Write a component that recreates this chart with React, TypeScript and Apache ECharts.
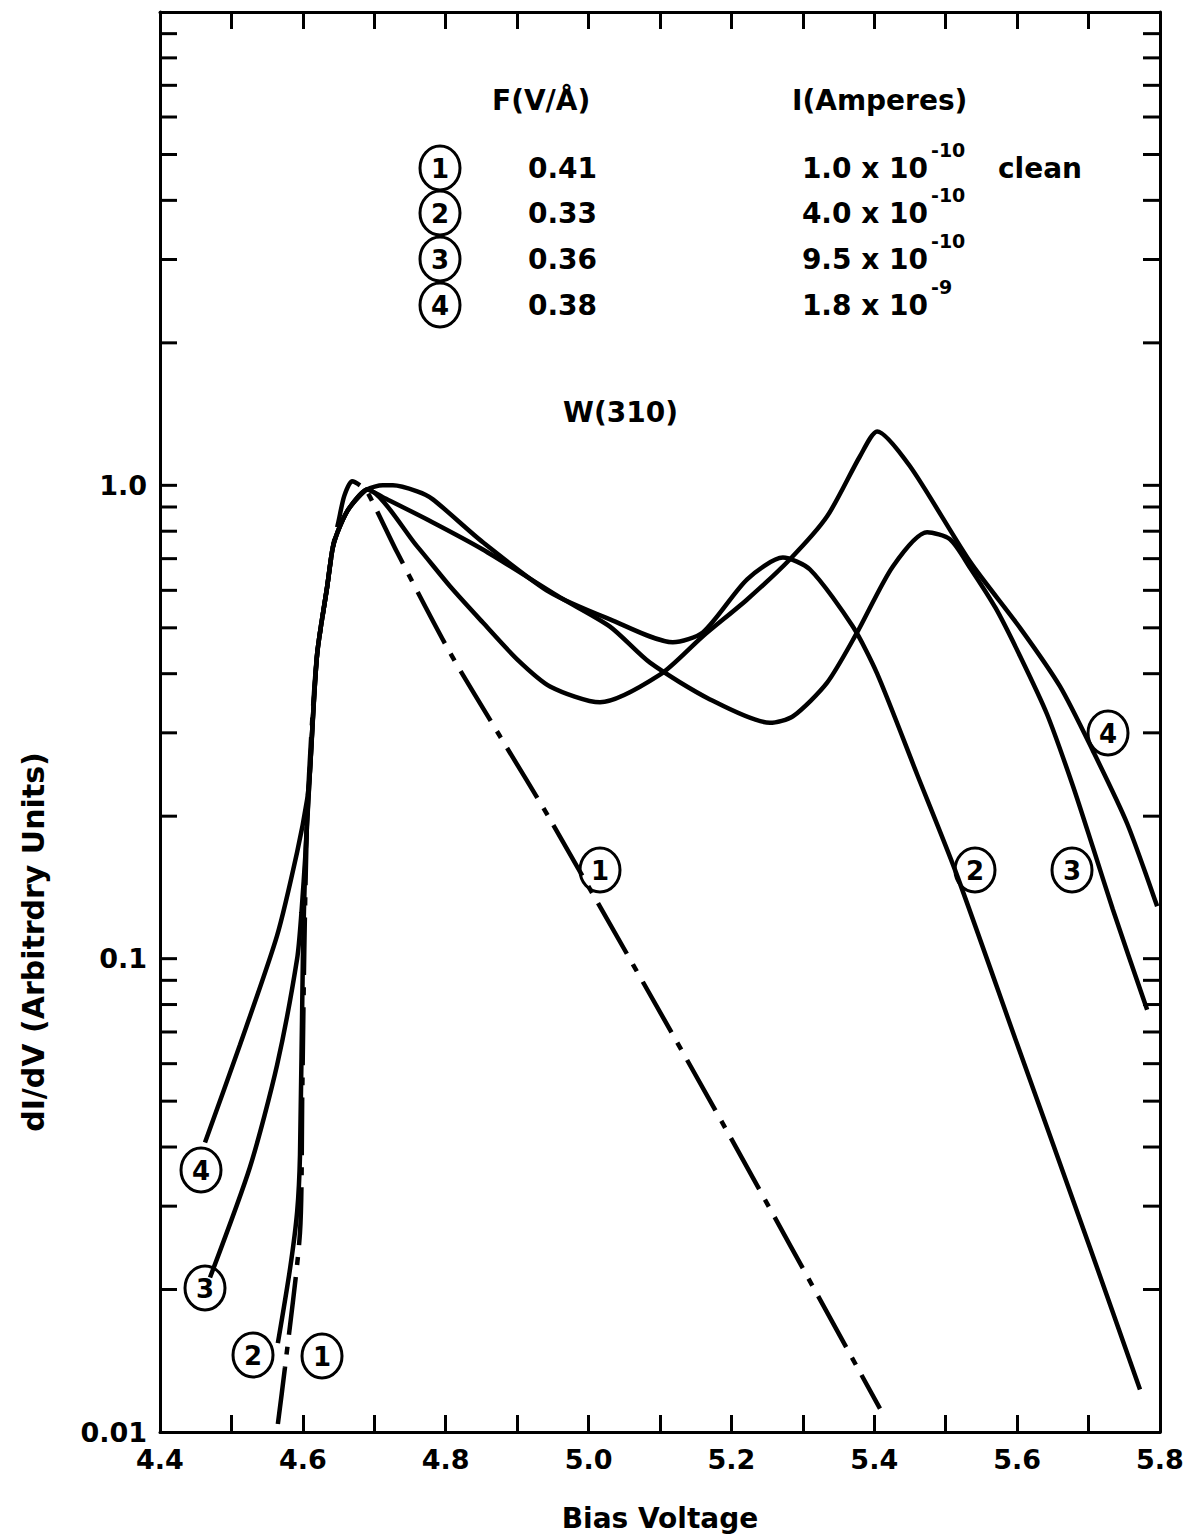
import React, { useEffect, useRef } from 'react';
import * as echarts from 'echarts';

const X_MIN = 4.4;
const X_MAX = 5.8;
const Y_MIN = 0.01;
const Y_MAX = 10;

// log-axis minor/major tick multipliers per decade
const DECADES = [0.01, 0.1, 1];
const TICK_MULTS = [1, 2, 3, 4, 5, 6, 7, 8, 9];
const Y_LABELS: Record<string, string> = { '-2': '0.01', '-1': '0.1', '0': '1.0' };

// steep common onset shared by curves 2-4
const rise: [number, number][] = [
  [4.61, 0.25], [4.62, 0.44], [4.634, 0.61], [4.642, 0.74], [4.652, 0.82], [4.666, 0.9], [4.69, 0.98],
];

// (1) clean surface, dash-dot
const curve1: [number, number][] = [
  [4.565, 0.0104], [4.575, 0.0137], [4.596, 0.0264], [4.599, 0.05], [4.602, 0.104], [4.606, 0.2],
  [4.612, 0.3], [4.62, 0.44], [4.634, 0.61], [4.642, 0.74], [4.65, 0.84], [4.658, 0.95], [4.669, 1.02],
  [4.68, 1.0], [4.69, 0.97], [4.732, 0.722], [4.806, 0.443], [4.876, 0.295], [4.946, 0.197],
  [5.177, 0.048], [5.408, 0.0112],
];

const curve2: [number, number][] = [
  [4.565, 0.0154], [4.582, 0.0221], [4.592, 0.0292], [4.596, 0.0385], [4.6, 0.1], [4.604, 0.17],
  ...rise,
  [4.712, 1.0], [4.726, 1.0], [4.76, 0.971], [4.782, 0.934], [4.852, 0.758], [4.946, 0.594],
  [5.03, 0.521], [5.118, 0.466], [5.16, 0.489], [5.222, 0.633], [5.272, 0.704], [5.31, 0.664],
  [5.37, 0.503], [5.404, 0.4], [5.46, 0.245], [5.513, 0.154], [5.6, 0.066], [5.7, 0.025], [5.772, 0.0123],
];

const curve3: [number, number][] = [
  [4.47, 0.0212], [4.526, 0.0363], [4.564, 0.0597], [4.592, 0.1], [4.598, 0.125], [4.604, 0.17],
  ...rise,
  [4.712, 0.944], [4.782, 0.835], [4.852, 0.732], [4.96, 0.58], [5.03, 0.503], [5.086, 0.422],
  [5.17, 0.353], [5.254, 0.315], [5.286, 0.325], [5.334, 0.383], [5.376, 0.489], [5.426, 0.674],
  [5.474, 0.796], [5.506, 0.769], [5.534, 0.67], [5.57, 0.55], [5.604, 0.436], [5.642, 0.328],
  [5.678, 0.232], [5.706, 0.172], [5.734, 0.127], [5.782, 0.078],
];

const curve4: [number, number][] = [
  [4.463, 0.0409], [4.512, 0.0658], [4.564, 0.112], [4.592, 0.168], [4.606, 0.217],
  ...rise,
  [4.76, 0.743], [4.806, 0.612], [4.852, 0.513], [4.9, 0.429], [4.946, 0.376], [5.016, 0.348],
  [5.1, 0.398], [5.16, 0.48], [5.222, 0.574], [5.282, 0.698], [5.334, 0.86], [5.38, 1.152],
  [5.404, 1.3], [5.45, 1.097], [5.534, 0.69], [5.604, 0.5], [5.66, 0.376], [5.706, 0.275],
  [5.754, 0.193], [5.796, 0.129],
];

// legend table
const CURVE_IDS = ['1', '2', '3', '4'];
const FIELDS = ['0.41', '0.33', '0.36', '0.38'];
const CURRENT_MANT = ['1.0 x 10', '4.0 x 10', '9.5 x 10', '1.8 x 10'];
const CURRENT_EXP = ['-10', '-10', '-10', '-9'];
const NOTES = ['clean', '', '', ''];

const FONT = 'DejaVu Sans';
const TICK_LEN = 17;

const txt = (text: string, x: number, y: number, size: number, align = 'left', extra: any = {}) => ({
  type: 'text',
  x,
  y,
  z: 20,
  ...extra,
  style: {
    text,
    fontFamily: FONT,
    fontSize: size,
    fontWeight: 'bold',
    fill: '#000',
    align,
    textAlign: align,
    verticalAlign: 'middle',
    textVerticalAlign: 'middle',
  },
});

const circled = (n: string, x: number, y: number) => ({
  type: 'group',
  x,
  y,
  z: 20,
  children: [
    {
      type: 'ellipse',
      shape: { cx: 0, cy: 0, rx: 20, ry: 22 },
      style: { fill: '#fff', stroke: '#000', lineWidth: 3 },
    },
    {
      type: 'text',
      x: 0,
      y: 1,
      style: {
        text: n, fontFamily: FONT, fontSize: 26, fontWeight: 'bold', fill: '#000',
        align: 'center', textAlign: 'center', verticalAlign: 'middle', textVerticalAlign: 'middle',
      },
    },
  ],
});

const App: React.FC = () => {
  const chartRef = useRef<HTMLDivElement>(null);

  useEffect(() => {
    if (!chartRef.current) return;
    document.body.style.margin = '0';
    const chart = echarts.init(chartRef.current, null, { renderer: 'svg' });

    const yTicks: [number, number][] = [];
    DECADES.forEach((d) => TICK_MULTS.forEach((m) => {
      const v = d * m;
      if (v > Y_MIN * 1.001) yTicks.push([X_MIN, v]);
    }));

    const lineSeries = (name: string, data: [number, number][], dashed = false) => ({
      name,
      type: 'line',
      data,
      showSymbol: false,
      symbol: 'none',
      smooth: 0.25,
      clip: true,
      lineStyle: {
        color: '#000',
        width: 4.5,
        type: dashed ? [58, 12, 8, 12] : 'solid',
        cap: 'butt',
      },
      z: 3,
    });

    const xAxisBase = {
      type: 'value',
      min: X_MIN,
      max: X_MAX,
      interval: 0.1,
      splitLine: { show: false },
      axisLine: { show: true, lineStyle: { color: '#000', width: 3 } },
      axisTick: { show: true, inside: true, length: TICK_LEN, lineStyle: { color: '#000', width: 3 } },
    };

    const yAxisBase = {
      type: 'log',
      logBase: 10,
      min: Y_MIN,
      max: Y_MAX,
      splitLine: { show: false },
      axisLine: { show: true, lineStyle: { color: '#000', width: 3 } },
      axisTick: { show: false },
    };

    const graphics: any[] = [];
    // header
    graphics.push(txt('F(V/Å)', 492, 100, 28));
    graphics.push(txt('I(Amperes)', 792, 100, 28));
    CURVE_IDS.forEach((id, i) => {
      const y = [168, 213, 259, 305][i];
      graphics.push(circled(id, 440, y));
      graphics.push(txt(FIELDS[i], 528, y, 28));
      graphics.push(txt(CURRENT_MANT[i], 928, y, 28, 'right'));
      graphics.push(txt(CURRENT_EXP[i], 931, y - 18, 19));
      if (NOTES[i]) graphics.push(txt(NOTES[i], 998, y, 28));
    });
    graphics.push(txt('W(310)', 563, 412, 28));

    // curve tags
    [
      ['1', 600, 870], ['1', 322, 1356],
      ['2', 975, 870], ['2', 253, 1355],
      ['3', 1072, 870], ['3', 205, 1288],
      ['4', 1108, 733], ['4', 201, 1170],
    ].forEach(([n, x, y]) => graphics.push(circled(n as string, x as number, y as number)));

    // axis titles
    graphics.push(txt('Bias Voltage', 660, 1518, 28, 'center'));
    graphics.push(txt('dI/dV (Arbitrdry Units)', 33, 942, 30, 'center', { rotation: Math.PI / 2 }));

    chart.setOption({
      animation: false,
      backgroundColor: '#fff',
      grid: { left: 160, top: 12, width: 1000, height: 1420, containLabel: false },
      xAxis: [
        {
          ...xAxisBase,
          position: 'bottom',
          axisLabel: {
            show: true,
            margin: 14,
            color: '#000',
            fontFamily: FONT,
            fontSize: 27,
            fontWeight: 'bold',
            formatter: (v: number) => {
              const t = Math.round(v * 10);
              return t % 2 === 0 ? (t / 10).toFixed(1) : '';
            },
          },
        },
        { ...xAxisBase, position: 'top', axisLabel: { show: false } },
      ],
      yAxis: [
        {
          ...yAxisBase,
          position: 'left',
          axisLabel: {
            show: true,
            margin: 13,
            color: '#000',
            fontFamily: FONT,
            fontSize: 27,
            fontWeight: 'bold',
            formatter: (v: number) => {
              const l = Math.log10(v);
              const r = Math.round(l);
              if (Math.abs(l - r) > 1e-6) return '';
              return Y_LABELS[String(r)] || '';
            },
          },
        },
        { ...yAxisBase, position: 'right', axisLabel: { show: false } },
      ],
      series: [
        lineSeries('1', curve1, true),
        lineSeries('2', curve2),
        lineSeries('3', curve3),
        lineSeries('4', curve4),
        {
          type: 'custom',
          name: 'yticks',
          xAxisIndex: 0,
          yAxisIndex: 0,
          data: yTicks,
          silent: true,
          z: 4,
          renderItem: (_params: any, api: any) => {
            const v = api.value(1);
            const l = api.coord([X_MIN, v]);
            const r = api.coord([X_MAX, v]);
            const st = { stroke: '#000', lineWidth: 3 };
            return {
              type: 'group',
              children: [
                { type: 'line', shape: { x1: l[0], y1: l[1], x2: l[0] + TICK_LEN, y2: l[1] }, style: st },
                { type: 'line', shape: { x1: r[0] - TICK_LEN, y1: r[1], x2: r[0], y2: r[1] }, style: st },
              ],
            };
          },
        },
      ],
      graphic: graphics,
    });

    return () => chart.dispose();
  }, []);

  return <div ref={chartRef} style={{ width: 1189, height: 1539, overflow: 'hidden' }} />;
};

export default App;
